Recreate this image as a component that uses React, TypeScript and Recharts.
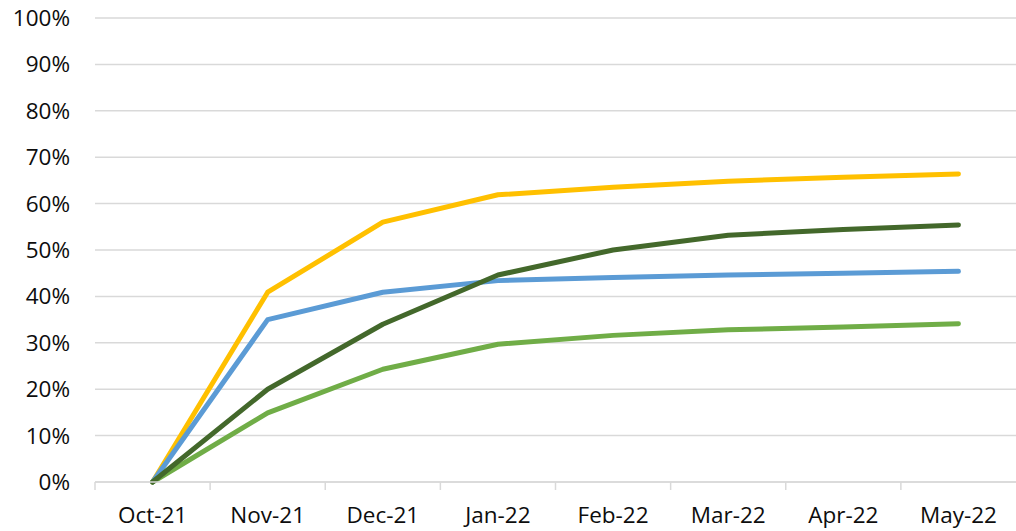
import React from "react";
import { LineChart, Line, XAxis, YAxis, CartesianGrid } from "recharts";

const months = ["Oct-21", "Nov-21", "Dec-21", "Jan-22", "Feb-22", "Mar-22", "Apr-22", "May-22"];
const yellowSeries = [0, 40.9, 56.0, 61.9, 63.5, 64.8, 65.7, 66.4];
const blueSeries = [0, 35.0, 40.9, 43.4, 44.1, 44.6, 45.0, 45.4];
const darkGreenSeries = [0, 20.0, 34.0, 44.6, 50.0, 53.2, 54.4, 55.4];
const lightGreenSeries = [0, 14.9, 24.3, 29.7, 31.6, 32.8, 33.4, 34.1];
const yTicks = [0, 10, 20, 30, 40, 50, 60, 70, 80, 90, 100];

const data = months.map((m, i) => ({
  month: m,
  yellow: yellowSeries[i],
  blue: blueSeries[i],
  darkGreen: darkGreenSeries[i],
  lightGreen: lightGreenSeries[i],
}));

const WIDTH = 1016;
const HEIGHT = 531;
const Y_AXIS_W = 95;
const BAND = (WIDTH - Y_AXIS_W) / months.length;
const FONT = "'Open Sans', sans-serif";
const FS = 22.5;

const XTick = (props: any) => {
  const { x, y, payload } = props;
  return (
    <g>
      <line x1={x - BAND / 2} x2={x - BAND / 2} y1={y} y2={y + 8} stroke="#d9d9d9" strokeWidth={1.5} />
      <text x={x} y={y + 41} textAnchor="middle" fontFamily={FONT} fontSize={FS} fill="#0d0d0d">
        {payload.value}
      </text>
    </g>
  );
};

export default function App() {
  return (
    <div style={{ position: "absolute", top: 0, left: 0, width: WIDTH, height: HEIGHT, background: "#fff" }}>
      <LineChart width={WIDTH} height={HEIGHT} data={data} margin={{ top: 18, right: 0, bottom: 0, left: 0 }}>
        <CartesianGrid vertical={false} stroke="#d9d9d9" strokeWidth={1.5} />
        <XAxis
          dataKey="month"
          height={49}
          padding={{ left: BAND / 2, right: BAND / 2 }}
          axisLine={{ stroke: "#d9d9d9", strokeWidth: 1.5 }}
          tickLine={false}
          tickSize={0}
          tickMargin={0}
          tick={<XTick />}
          interval={0}
        />
        <YAxis
          width={Y_AXIS_W}
          domain={[0, 100]}
          ticks={yTicks}
          tickFormatter={(v: number) => `${v}%`}
          axisLine={false}
          tickLine={false}
          tickSize={0}
          tickMargin={25}
          tick={{ fontFamily: FONT, fontSize: FS, fill: "#0d0d0d" }}
          interval={0}
        />
        <Line type="linear" dataKey="yellow" stroke="#FFC000" strokeWidth={5} dot={false} strokeLinecap="round" strokeLinejoin="round" isAnimationActive={false} />
        <Line type="linear" dataKey="blue" stroke="#5B9BD5" strokeWidth={5} dot={false} strokeLinecap="round" strokeLinejoin="round" isAnimationActive={false} />
        <Line type="linear" dataKey="lightGreen" stroke="#70AD47" strokeWidth={5} dot={false} strokeLinecap="round" strokeLinejoin="round" isAnimationActive={false} />
        <Line type="linear" dataKey="darkGreen" stroke="#43682B" strokeWidth={5} dot={false} strokeLinecap="round" strokeLinejoin="round" isAnimationActive={false} />
      </LineChart>
    </div>
  );
}
